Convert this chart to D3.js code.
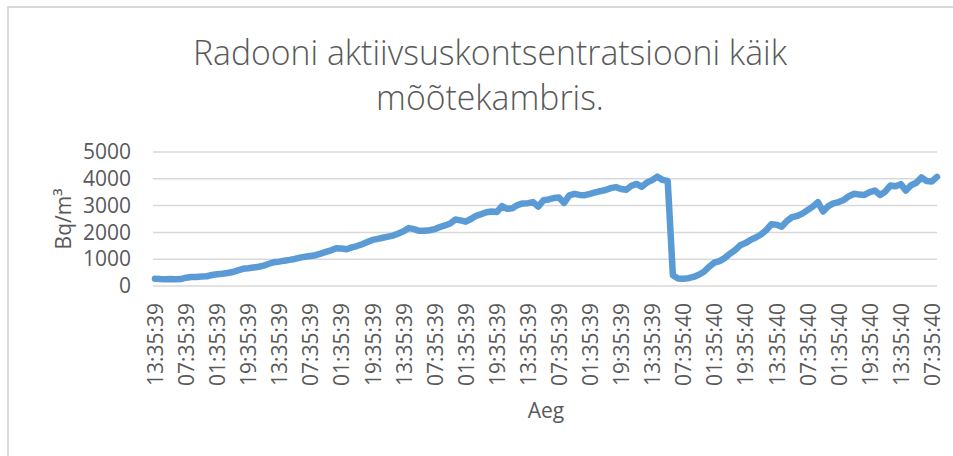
<!DOCTYPE html>
<html>
<head>
<meta charset="utf-8">
<script src="https://cdn.jsdelivr.net/npm/d3@7"></script>
<style>
  html, body { margin: 0; padding: 0; background: #fff; overflow: hidden; }
  text { font-family: "Open Sans", "Liberation Sans", sans-serif; fill: #595959; }
</style>
</head>
<body>
<div id="chart"></div>
<script>
const WIDTH = 953, HEIGHT = 456;
const M = { top: 152, right: 16, bottom: 170, left: 155 };
const innerW = WIDTH - M.left - M.right;
const innerH = HEIGHT - M.top - M.bottom;

const titleLines = ["Radooni aktiivsuskontsentratsiooni käik", "mõõtekambris."];
const yTitle = "Bq/m³";
const xTitle = "Aeg";
const yTicks = [0, 1000, 2000, 3000, 4000, 5000];

// one label every 18 h, data every 3 h (6 samples per label)
const samplesPerLabel = 6;
const tickLabels = [
  "13:35:39", "07:35:39", "01:35:39", "19:35:39", "13:35:39", "07:35:39", "01:35:39",
  "19:35:39", "13:35:39", "07:35:39", "01:35:39", "19:35:39", "13:35:39", "07:35:39",
  "01:35:39", "19:35:39", "13:35:39", "07:35:40", "01:35:40", "19:35:40", "13:35:40",
  "07:35:40", "01:35:40", "19:35:40", "13:35:40", "07:35:40"
];

const radon = [
  270, 260, 255, 265, 250, 260, 310, 335, 340, 355,
  365, 410, 440, 460, 485, 520, 580, 640, 660, 690,
  720, 760, 830, 890, 910, 945, 975, 1010, 1060, 1090,
  1120, 1150, 1210, 1270, 1330, 1410, 1400, 1370, 1440, 1490,
  1560, 1640, 1720, 1760, 1800, 1840, 1880, 1960, 2040, 2160,
  2120, 2060, 2060, 2080, 2120, 2200, 2260, 2330, 2480, 2450,
  2400, 2500, 2620, 2680, 2750, 2780, 2760, 2980, 2880, 2900,
  3020, 3080, 3090, 3130, 2960, 3200, 3230, 3280, 3300, 3100,
  3380, 3440, 3400, 3390, 3440, 3490, 3540, 3580, 3650, 3690,
  3620, 3590, 3740, 3810, 3700, 3860, 3950, 4080, 3960, 3920,
  400, 280, 270, 290, 340, 420, 530, 720, 870, 930,
  1040, 1200, 1340, 1520, 1600, 1720, 1810, 1920, 2080, 2300,
  2290, 2210, 2420, 2570, 2610, 2700, 2830, 2960, 3130, 2780,
  2980, 3080, 3130, 3210, 3350, 3440, 3410, 3400, 3500, 3560,
  3400, 3520, 3750, 3720, 3800, 3560, 3760, 3850, 4050, 3920,
  3900, 4070
];

const svg = d3.select("#chart").append("svg")
  .attr("width", WIDTH).attr("height", HEIGHT);

// chart frame (runs off the right and bottom edge like in the screenshot)
svg.append("rect")
  .attr("x", 8).attr("y", 7).attr("width", WIDTH + 20).attr("height", HEIGHT + 20)
  .attr("fill", "none").attr("stroke", "#d9d9d9").attr("stroke-width", 2);

// title, squeezed to the reference width
const title = svg.append("text").attr("text-anchor", "middle")
  .style("font-weight", 300).style("font-size", "35px");
titleLines.forEach((t, i) => {
  title.append("tspan").attr("x", 490).attr("y", 65 + i * 45).text(t);
});
const spans = title.selectAll("tspan").nodes();
const squeeze = 594 / spans[0].getComputedTextLength();
spans.forEach(n => {
  d3.select(n).attr("textLength", n.getComputedTextLength() * squeeze)
    .attr("lengthAdjust", "spacingAndGlyphs");
});

const g = svg.append("g").attr("transform", `translate(${M.left},${M.top})`);

const x = d3.scaleLinear().domain([0, radon.length - 1]).range([0, innerW]);
const y = d3.scaleLinear().domain([0, 5000]).range([innerH, 0]);

// gridlines
g.append("g").selectAll("line").data(yTicks).join("line")
  .attr("x1", -2).attr("x2", innerW)
  .attr("y1", d => y(d)).attr("y2", d => y(d))
  .attr("stroke", "#d9d9d9").attr("stroke-width", 1.5);

// y axis
const yAxis = g.append("g").call(d3.axisLeft(y).tickValues(yTicks)
  .tickFormat(d3.format("d")).tickSize(0).tickPadding(24));
yAxis.select(".domain").remove();
yAxis.selectAll("text").style("font-size", "21px").style("font-family", null).attr("fill", null);

// x axis, rotated labels
const xAxis = g.append("g").attr("transform", `translate(0,${innerH})`)
  .call(d3.axisBottom(x)
    .tickValues(tickLabels.map((_, i) => i * samplesPerLabel))
    .tickFormat((d, i) => tickLabels[i])
    .tickSize(0));
xAxis.select(".domain").remove();
xAxis.selectAll("text")
  .style("font-size", "21px").style("font-family", null).attr("fill", null)
  .attr("transform", "rotate(-90)")
  .attr("text-anchor", "end")
  .attr("x", -17).attr("y", 0).attr("dy", "0.36em");

// series
const line = d3.line().x((d, i) => x(i)).y(d => y(d));
g.append("path").datum(radon)
  .attr("fill", "none").attr("stroke", "#5b9bd5").attr("stroke-width", 6.5)
  .attr("stroke-linejoin", "round").attr("stroke-linecap", "round")
  .attr("d", line);

// axis titles
svg.append("text")
  .attr("transform", `translate(71,${M.top + innerH / 2}) rotate(-90)`)
  .attr("text-anchor", "middle").style("font-size", "21px").text(yTitle);

svg.append("text")
  .attr("x", M.left + innerW / 2).attr("y", 418)
  .attr("text-anchor", "middle").style("font-size", "21px").text(xTitle);
</script>
</body>
</html>
